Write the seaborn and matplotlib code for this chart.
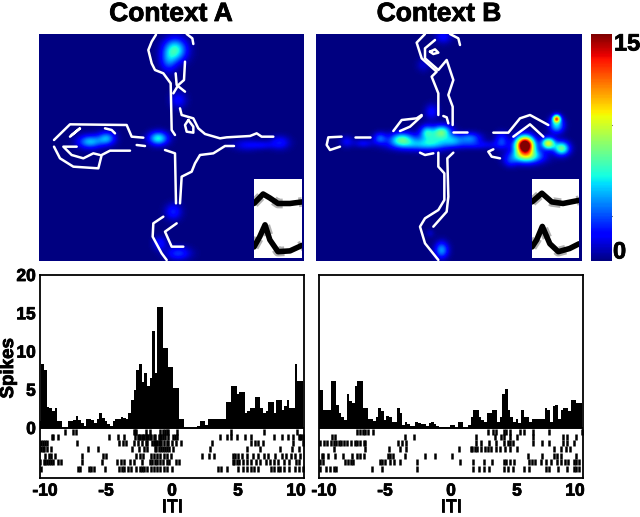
#!/usr/bin/python3
"""Place-field maps and ITI spike histograms with rasters, context A and B."""
import numpy as np
import pandas as pd
import seaborn as sns
import matplotlib.pyplot as plt
import matplotlib.patheffects as pe
from matplotlib.transforms import ScaledTranslation

W, H = 640, 517

# histogram values, one per 0.2 s bin
spikes_a = [0.9, 8.3, 7.6, 2.8, 2.6, 2.2, 2.6, 0.9, 0.9, 0, 0, 0.9, 0.9, 1.0, 1.6, 1.0, 0.7, 0.3, 1.2, 1.2,
            1.0, 0.6, 1.2, 1.9, 1.3, 0.9, 0.5, 0.3, 0.9, 1.2, 1.2, 1.5, 1.3, 1.2, 1.9, 3.7, 5.0, 7.6, 8.3, 6.0,
            7.2, 5.5, 6.5, 12.7, 7.2, 15.8, 15.8, 10.5, 10.5, 8.0, 8.0, 5.2, 5.2, 1.2, 1.2, 0, 0, 0, 0, 0,
            0.3, 0.9, 0.9, 0.4, 1.2, 1.2, 1.2, 1.2, 1.2, 1.2, 1.2, 3.4, 3.4, 5.5, 5.5, 4.4, 4.7, 4.7, 1.9, 2.2,
            2.6, 2.6, 4.1, 4.1, 2.6, 1.9, 2.2, 3.4, 3.4, 1.9, 3.7, 3.7, 2.4, 2.9, 3.7, 2.6, 2.6, 8.3, 6.2, 6.2]
spikes_b = [5.0, 5.0, 2.3, 2.3, 2.3, 6.2, 6.2, 3.0, 2.0, 1.5, 1.1, 4.4, 3.5, 3.3, 5.5, 6.2, 6.2, 2.6, 2.6, 1.2,
            1.2, 0.9, 1.5, 2.6, 2.2, 1.0, 1.6, 1.4, 0.8, 0.8, 2.6, 2.0, 0.4, 0.8, 0.5, 0.2, 0.3, 0.8, 0.6, 0.5,
            0.5, 0.2, 0.6, 0.8, 0.5, 0.2, 0.1, 0.1, 0.1, 0.1, 0.4, 0.4, 0, 0.8, 0.8, 0, 0, 0.4, 1.5, 2.3,
            2.3, 1.5, 1.0, 0.8, 1.9, 1.9, 2.3, 2.3, 0.8, 1.5, 4.4, 5.1, 2.3, 1.5, 0.8, 1.2, 0.6, 2.3, 1.5, 1.5,
            0.8, 1.2, 1.2, 1.2, 1.2, 1.2, 2.6, 2.4, 0.8, 2.9, 3.0, 1.2, 2.4, 2.6, 2.6, 2.2, 3.7, 3.7, 3.3, 3.3]

raster_rows = [-0.55, -1.2, -2.0, -2.8, -3.7, -4.45, -5.4]

raster_a = [
    [-8.1, -7.5, -7.3, -2.9, -2.8, -2.7, -2.0, -1.7, -0.9, -0.7, -0.5, -0.4, -0.3, 0.4, 4.5, 7.0, 9.5],
    [-9.1, -9.0, -8.6, -4.8, -4.1, -3.6, -2.8, -2.6, -2.5, -2.4, -2.3, -2.2, -2.1, -2.0, -1.9, -1.8, -1.7, -1.6,
     -1.4, -1.3, -1.0, -0.9, -0.8, -0.7, -0.5, -0.3, 0.1, 0.2, 0.4, 3.6, 4.2, 4.5, 4.9, 5.5, 6.0, 7.7, 8.3, 8.8,
     9.2, 9.6, 9.7, 9.8, 9.9],
    [-9.9, -9.8, -9.6, -9.5, -7.2, -4.0, -3.7, -3.5, -2.9, -2.6, -2.3, -2.0, -1.9, -1.5, -1.4, -1.3, -1.2, -1.1,
     -1.0, -0.9, -0.8, -0.6, -0.4, -0.3, 0.0, 0.3, 0.7, 3.0, 6.0, 6.3, 6.5, 6.9, 9.2, 9.9],
    [-9.9, -9.8, -9.7, -9.5, -9.2, -6.4, -5.6, -3.0, -2.5, -2.1, -1.9, -1.3, -1.2, -1.0, -0.8, -0.7, -0.5, -0.4,
     -0.2, 0.1, 2.9, 5.7, 6.7, 8.2, 9.1, 9.6],
    [-9.6, -9.3, -9.2, -8.9, -6.8, -5.2, -5.0, -2.7, -2.4, -2.2, -1.6, -1.4, -1.1, -0.9, -0.6, -0.4, -0.1, 2.3,
     2.8, 3.2, 4.6, 4.8, 5.0, 5.3, 5.7, 6.1, 6.5, 7.0, 7.3, 7.8, 8.3, 8.6, 9.0, 9.3, 9.7],
    [-10, -9.7, -9.6, -9.5, -9.3, -9.2, -9.0, -8.6, -8.4, -6.8, -5.3, -4.2, -3.9, -3.6, -3.2, -2.9, -2.3, -1.7,
     -1.5, -1.3, -1.1, -0.9, -0.7, -0.4, -0.2, 0.3, 0.5, 4.6, 4.7, 4.9, 5.1, 5.4, 5.7, 6.0, 6.4, 6.7, 7.1, 7.4,
     7.7, 8.0, 8.5, 8.9, 9.4, 9.6],
    [-9.9, -7.1, -7.0, -6.3, -6.1, -5.9, -5.1, -4.0, -3.8, -3.6, -3.3, -3.1, -2.7, -2.4, -2.3, -2.1, -1.9, -1.6,
     -1.4, -1.1, -0.9, -0.6, -0.4, 0.0, 3.5, 3.7, 4.2, 5.0, 5.4, 5.7, 6.0, 6.2, 6.5, 7.5, 7.7, 8.0, 8.2, 8.5,
     8.9, 9.3, 9.6, 9.9],
]
raster_b = [
    [-7.1, -6.9, -6.7, -6.5, -6.3, -5.9, 2.8, 3.2, 3.4, 4.0, 4.2, 4.5, 5.2, 5.5, 6.2, 7.4, 9.9],
    [-9.0, -8.8, -3.5, -2.8, 1.9, 3.3, 3.8, 4.0, 4.5, 5.0, 6.2, 8.5, 8.8, 9.5],
    [-9.9, -9.6, -9.4, -9.1, -8.9, -8.7, -8.5, -8.3, -8.1, -7.9, -7.6, -7.3, -7.1, -6.9, -6.6, -6.5, -4.0, -3.7,
     -3.4, 1.9, 2.3, 2.9, 3.4, 4.0, 4.3, 4.5, 4.7, 6.2, 6.9, 7.4, 8.5, 8.8, 9.3],
    [-8.9, -6.5, -4.7, -3.9, -3.4, 0.6, 1.5, 1.6, 1.8, 2.0, 2.3, 2.6, 2.8, 3.0, 3.4, 3.7, 4.1, 4.5, 5.0, 7.8, 8.3,
     8.7, 9.0],
    [-9.8, -9.7, -9.3, -8.8, -8.2, -7.5, -7.1, -6.9, -6.6, -4.8, -4.6, -4.4, -3.5, -2.0, -1.2, 0.1, 5.8, 6.9, 7.8,
     8.0, 8.3, 9.5],
    [-9.9, -9.7, -8.0, -7.8, -7.6, -7.4, -5.4, -5.2, -5.0, -4.6, -4.3, -3.9, -2.6, 0.7, 1.7, 2.5, 3.1, 4.0, 4.2,
     4.5, 4.8, 5.9, 6.1, 6.4, 6.8, 7.2, 7.6, 8.0, 8.3, 8.6, 8.9, 9.3, 9.5, 9.7],
    [-9.9, -9.5, -9.2, -8.9, -8.7, -6.0, -5.2, -2.6, 1.7, 2.1, 2.5, 2.9, 4.0, 4.3, 4.7, 5.5, 5.9, 7.2, 7.4, 8.1,
     8.8, 9.3, 9.5, 9.7],
]

# firing hot spots: centre x, centre y, peak rate, spread x, spread y
spots_a = [(435, 60, 6, 24, 24), (415, 95, 2.5, 17, 22), (445, 210, 1.8, 17, 17), (385, 325, 5.5, 20, 14),
           (230, 325, 4, 18, 14), (180, 335, 4.5, 25, 14), (750, 338, 2, 20, 14), (650, 345, 1.5, 28, 12),
           (700, 345, 1.2, 23, 9), (430, 545, 2.2, 17, 17), (390, 640, 2, 14, 14), (445, 670, 2.5, 25, 14)]
spots_b = [(400, 20, 1.8, 17, 14), (340, 105, 1, 14, 14), (365, 245, 1.8, 14, 16), (395, 305, 6, 20, 14),
           (350, 305, 4, 14, 14), (275, 328, 6, 25, 14), (210, 325, 3, 14, 12), (110, 335, 1.5, 14, 12),
           (370, 330, 4, 34, 17), (480, 325, 3.5, 23, 12), (430, 330, 3, 20, 12), (575, 330, 2.5, 14, 16),
           (160, 340, 1.5, 20, 9), (320, 345, 3, 55, 12), (500, 345, 1.5, 66, 9), (645, 345, 18, 19, 18),
           (650, 378, 7, 33, 15), (740, 266, 10, 8, 8), (740, 285, 5, 15, 16), (715, 340, 9, 14, 12),
           (755, 355, 7, 16, 14), (600, 395, 1.5, 14, 12), (395, 660, 4, 14, 17), (360, 610, 0.8, 9, 9)]

# maze outline pieces
tracks_a = [
    [(378, 14), (365, 35), (355, 60), (365, 100), (375, 120), (400, 130), (422, 160), (425, 300), (435, 315)],
    [(470, 12), (487, 25), (490, 42)],
    [(437, 130), (440, 165), (465, 185)],
    [(465, 95), (462, 150), (445, 165), (430, 190)],
    [(450, 235), (455, 255), (490, 265), (505, 295), (525, 312), (570, 325), (590, 322), (660, 318), (680, 310),
     (695, 320), (730, 320)],
    [(475, 270), (465, 285), (470, 305), (490, 308), (490, 290), (475, 270)],
    [(340, 323), (305, 320), (290, 285), (120, 283), (72, 330)],
    [(120, 320), (150, 295), (125, 315)],
    [(72, 350), (90, 385), (130, 410), (205, 415), (215, 375), (240, 362), (300, 362)],
    [(140, 350), (100, 350), (125, 375), (160, 385), (190, 370), (210, 375)],
    [(225, 295), (245, 300), (255, 310)],
    [(405, 360), (435, 370), (438, 520)],
    [(612, 348), (585, 348), (550, 370), (510, 375), (495, 400), (485, 425), (455, 440), (450, 520)],
    [(400, 560), (370, 580), (368, 620), (395, 670), (410, 690)],
    [(440, 580), (405, 605), (425, 650), (460, 650)],
    [(320, 345), (345, 348)],
]
tracks_b = [
    [(345, 12), (320, 38), (335, 85), (380, 125), (365, 140), (385, 190), (385, 255)],
    [(375, 30), (345, 55), (345, 85), (385, 120), (410, 90), (430, 150), (415, 195), (428, 230), (428, 285)],
    [(360, 65), (375, 58), (385, 68), (370, 72), (360, 65)],
    [(420, 12), (445, 25), (450, 45)],
    [(250, 303), (275, 270), (320, 265), (335, 255)],
    [(270, 303), (300, 290), (335, 258)],
    [(400, 258), (410, 262), (415, 280)],
    [(95, 320), (55, 322), (50, 345), (60, 360), (90, 350)],
    [(135, 320), (180, 320)],
    [(430, 305), (470, 305)],
    [(550, 308), (595, 308), (630, 265), (660, 255), (715, 285)],
    [(610, 320), (660, 283), (700, 320)],
    [(330, 368), (345, 375), (370, 370)],
    [(385, 368), (385, 410), (403, 430), (403, 510), (385, 540), (345, 565), (330, 590), (345, 640), (385, 690)],
    [(430, 368), (412, 385), (415, 500), (410, 545), (370, 590)],
    [(550, 358), (535, 365), (545, 380), (570, 385)],
]

# spike waveforms in the insets
wave_a_top = ([0, .19, .33, .5, .75, 1], [.69, .81, .76, .69, .69, .71])
wave_a_low = ([0, .12, .23, .33, .5, .75, 1], [.14, .27, .42, .23, .08, .09, .16])
wave_b_top = ([0, .21, .42, .66, 1], [.71, .82, .71, .69, .73])
wave_b_low = ([0, .1, .22, .38, .56, .8, 1], [.14, .23, .40, .18, .08, .12, .18])

sns.set_theme(style="white")
plt.rcParams['font.family'] = ['Liberation Sans', 'DejaVu Sans']
plt.rcParams['font.weight'] = 'bold'
plt.rcParams['axes.unicode_minus'] = False
plt.rcParams['text.color'] = 'black'
plt.rcParams['xtick.color'] = 'black'
plt.rcParams['ytick.color'] = 'black'
plt.rcParams['axes.labelcolor'] = 'black'

fig = plt.figure(figsize=(W / 100, H / 100), dpi=100, facecolor='white')
heavy = [pe.withStroke(linewidth=0.6, foreground='black')]


def box(left, top, right, bottom):
    return fig.add_axes([left / W, 1 - bottom / H, (right - left) / W, (bottom - top) / H])


def draw_map(ax, spots, tracks, dx, dy, nx, ny):
    gx, gy = np.meshgrid(np.arange(nx) + 0.5, np.arange(ny) + 0.5)
    field = np.zeros((ny, nx))
    for cx, cy, peak, sx, sy in spots:
        field += peak * np.exp(-((gx - (cx / 3 + dx)) / (sx / 3)) ** 2 / 2 - ((gy - (cy / 3 + dy)) / (sy / 3)) ** 2 / 2)
    sns.heatmap(pd.DataFrame(field), cmap='jet', vmin=0, vmax=15, cbar=False,
                xticklabels=False, yticklabels=False, ax=ax, rasterized=True)
    for t in tracks:
        t = np.array(t)
        ax.plot(t[:, 0] / 3 + dx, t[:, 1] / 3 + dy, color='white', lw=1.8, solid_capstyle='round')
    for side in ax.spines.values():
        side.set_visible(False)


def draw_inset(ax, top, low):
    for x, y in (top, low):
        sns.lineplot(x=x, y=y, color='dimgray', lw=7, ls=':', alpha=0.5, ax=ax, errorbar=None)
        sns.lineplot(x=x, y=y, color='black', lw=4, ax=ax, errorbar=None)
    ax.set(xlim=(0, 1), ylim=(0, 1), xticks=[], yticks=[], xlabel='', ylabel='')
    for side in ax.spines.values():
        side.set_visible(False)


def draw_hist(ax, spikes, raster, show_labels):
    edges = np.arange(101) * 0.2 - 10.1
    binned = pd.DataFrame({'t': edges[:-1] + 0.1, 'n': spikes})
    sns.histplot(data=binned, x='t', weights='n', bins=edges.tolist(), color='black', alpha=1,
                 linewidth=0, ax=ax)
    for y, row in zip(raster_rows, raster):
        sns.scatterplot(x=row, y=[y] * len(row), marker='|', s=13, color='black', linewidth=1.8, ax=ax)
    ax.axhline(0, color='black', lw=1.4)
    ax.set_xlim(-10, 10)
    ax.set_ylim(-6.54, 20)
    ax.set_xticks([-10, -5, 0, 5, 10])
    ax.set_yticks([0, 5, 10, 15, 20])
    ax.tick_params(axis='both', direction='in', length=2, width=1, color='black', labelsize=12.5, pad=4)
    ax.tick_params(axis='y', labelleft=show_labels, pad=3)
    ax.set_xlabel('ITI', fontsize=13, fontweight='bold', labelpad=0, path_effects=heavy)
    ax.set_ylabel('Spikes' if show_labels else '', fontsize=13.5, fontweight='bold', path_effects=heavy)
    ax.yaxis.set_label_coords(-0.087, 0.54)
    for lab in ax.get_xticklabels() + ax.get_yticklabels():
        lab.set_path_effects(heavy)
    # end labels sit inside the frame, so they keep clear of the next panel
    xlabs = ax.get_xticklabels()
    xlabs[0].set_transform(xlabs[0].get_transform() + ScaledTranslation(5 / 100, 0, fig.dpi_scale_trans))
    xlabs[-1].set_transform(xlabs[-1].get_transform() + ScaledTranslation(-8 / 100, 0, fig.dpi_scale_trans))
    for side in ax.spines.values():
        side.set_color('black')
        side.set_linewidth(1.3)


draw_map(box(39, 34, 304, 261), spots_a, tracks_a, -9, -4, 265, 227)
draw_map(box(316, 34, 582, 261), spots_b, tracks_b, -6, -4, 266, 227)

draw_inset(box(254, 179, 302, 258), wave_a_top, wave_a_low)
draw_inset(box(532, 179, 579, 258), wave_b_top, wave_b_low)

# colour bar
cax = box(591, 34, 612, 261)
levels = np.arange(15, 0, -0.05).reshape(-1, 1)
sns.heatmap(levels, cmap='jet', vmin=0, vmax=15, cbar=False, xticklabels=False, yticklabels=False, ax=cax)
cax.set_yticks([len(levels) * 0.4, len(levels) * 0.8])
cax.tick_params(axis='y', direction='in', length=2, width=0.8, color='black', left=True, right=True, labelleft=False)
fig.text(614 / W, 1 - 44 / H, '15', fontsize=17, fontweight='bold', va='center', ha='left', path_effects=heavy)
fig.text(613 / W, 1 - 252 / H, '0', fontsize=17, fontweight='bold', va='center', ha='left', path_effects=heavy)

draw_hist(box(40, 275, 304, 478), spikes_a, raster_a, True)
draw_hist(box(319, 275, 583, 478), spikes_b, raster_b, False)

fig.text(171 / W, 1 - 14 / H, 'Context A', fontsize=19, fontweight='bold', ha='center', va='center', path_effects=heavy)
fig.text(439 / W, 1 - 14 / H, 'Context B', fontsize=19, fontweight='bold', ha='center', va='center', path_effects=heavy)

fig.savefig('out.png', dpi=100, facecolor='white')
